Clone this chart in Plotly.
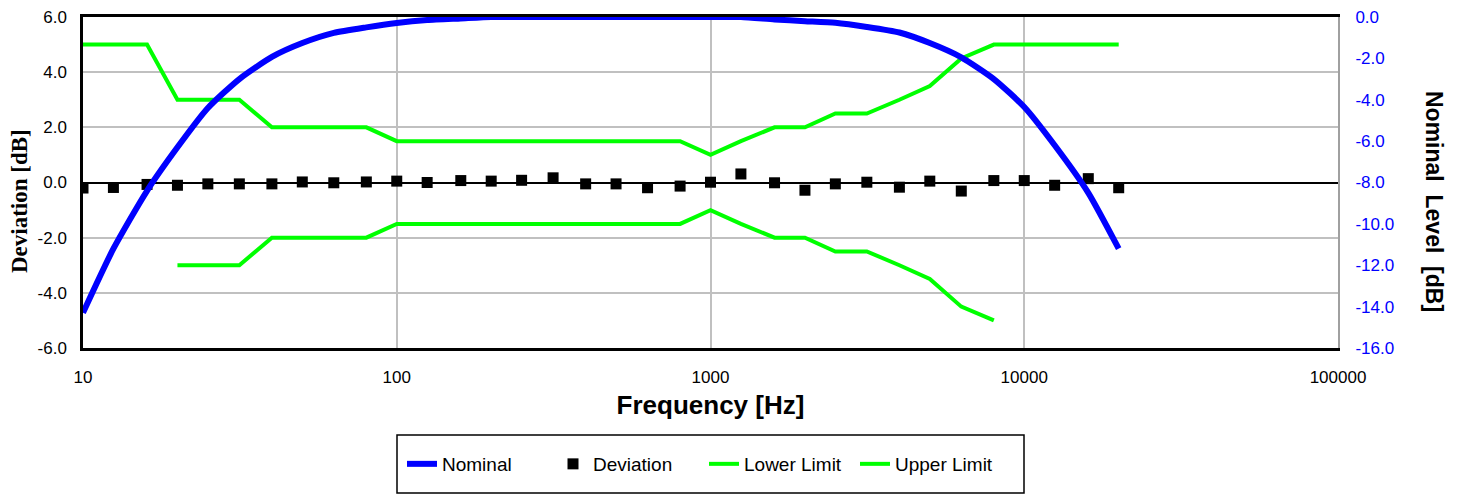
import plotly.graph_objects as go

freq = [10, 12.5, 16, 20, 25, 31.5, 40, 50, 63, 80, 100, 125, 160, 200, 250, 315, 400, 500,
        630, 800, 1000, 1250, 1600, 2000, 2500, 3150, 4000, 5000, 6300, 8000, 10000, 12500,
        16000, 20000]

nominal = [-14.3, -11.2, -8.4, -6.3, -4.4, -3.0, -1.93, -1.26, -0.77, -0.5, -0.29, -0.15, -0.07,
           0.0, 0.0, 0.0, 0.0, 0.0, 0.0, 0.0, 0.0, 0.0, -0.12, -0.2, -0.28, -0.48, -0.75, -1.26,
           -1.95, -3.0, -4.35, -6.2, -8.5, -11.2]

deviation = [-0.2, -0.18, -0.07, -0.1, -0.05, -0.05, -0.05, 0.02, -0.01, 0.02, 0.05, 0.0, 0.07,
             0.05, 0.08, 0.17, -0.05, -0.05, -0.19, -0.13, 0.01, 0.31, -0.01, -0.28, -0.05, 0.01,
             -0.17, 0.05, -0.31, 0.07, 0.07, -0.1, 0.14, -0.19]

lower_freq = [20, 25, 31.5, 40, 50, 63, 80, 100, 125, 160, 200, 250, 315, 400, 500, 630, 800,
              1000, 1250, 1600, 2000, 2500, 3150, 4000, 5000, 6300, 8000]
lower_limit = [-3, -3, -3, -2, -2, -2, -2, -1.5, -1.5, -1.5, -1.5, -1.5, -1.5, -1.5, -1.5, -1.5,
               -1.5, -1.0, -1.5, -2, -2, -2.5, -2.5, -3, -3.5, -4.5, -5]

upper_limit = [5, 5, 5, 3, 3, 3, 2, 2, 2, 2, 1.5, 1.5, 1.5, 1.5, 1.5, 1.5, 1.5, 1.5, 1.5, 1.5,
               1.0, 1.5, 2, 2, 2.5, 2.5, 3, 3.5, 4.5, 5, 5, 5, 5, 5]

x_ticks = [10, 100, 1000, 10000, 100000]
x_ticktext = ["10", "100", "1000", "10000", "100000"]
y_ticks = [6, 4, 2, 0, -2, -4, -6]
y_ticktext = ["6.0", "4.0", "2.0", "0.0", "-2.0", "-4.0", "-6.0"]
y2_ticks = [0, -2, -4, -6, -8, -10, -12, -14, -16]
y2_ticktext = ["0.0", "-2.0", "-4.0", "-6.0", "-8.0", "-10.0", "-12.0", "-14.0", "-16.0"]

FONT = "Liberation Sans, Arial, sans-serif"
SERIF = "Liberation Serif, Times New Roman, serif"

# plot area in window px: left 83, right 1338, top 17, bottom 348 (page body has 8px margin)
PW = 1338 - 83
PH = 348 - 17


def px_x(px):
    return (px - 83) / PW


def px_y(py):
    return (348 - py) / PH


fig = go.Figure()
fig.add_trace(go.Scatter(x=freq, y=nominal, name="Nominal", yaxis="y2", mode="lines",
                         line=dict(color="#0000FF", width=6, shape="spline", smoothing=0.6)))
fig.add_trace(go.Scatter(x=freq, y=deviation, name="Deviation", mode="markers",
                         marker=dict(symbol="square", size=11, color="black")))
fig.add_trace(go.Scatter(x=lower_freq, y=lower_limit, name="Lower Limit", mode="lines",
                         line=dict(color="#00FF00", width=4)))
fig.add_trace(go.Scatter(x=freq[:len(upper_limit)], y=upper_limit, name="Upper Limit", mode="lines",
                         line=dict(color="#00FF00", width=4)))

fig.update_layout(
    width=1453, height=487,
    margin=dict(l=75, r=123, t=9, b=147, autoexpand=False),
    paper_bgcolor="white", plot_bgcolor="white",
    font=dict(family=FONT, size=17, color="black"),
    showlegend=True,
    legend=dict(orientation="h", x=px_x(402), xanchor="left", y=px_y(464), yanchor="middle",
                font=dict(family=FONT, size=19, color="black"),
                entrywidth=106, entrywidthmode="pixels",
                bgcolor="rgba(0,0,0,0)", borderwidth=0),
    xaxis=dict(type="log", range=[1, 5], tickvals=x_ticks, ticktext=x_ticktext,
               automargin=False, ticklabeloverflow="allow",
               showgrid=True, gridcolor="#C0C0C0", gridwidth=2,
               showline=True, linecolor="black", linewidth=2.5, mirror=True,
               ticks="outside", ticklen=12, tickcolor="rgba(0,0,0,0)",
               tickfont=dict(family=FONT, size=17),
               title=dict(text="<b>Frequency [Hz]</b>", font=dict(family=FONT, size=26), standoff=10)),
    yaxis=dict(range=[-6, 6], tickvals=y_ticks, ticktext=y_ticktext,
               automargin=False, ticklabeloverflow="allow",
               showgrid=True, gridcolor="#C0C0C0", gridwidth=2,
               zeroline=True, zerolinecolor="black", zerolinewidth=2,
               showline=True, linecolor="black", linewidth=2.5,
               ticks="outside", ticklen=10, tickcolor="rgba(0,0,0,0)",
               tickfont=dict(family=FONT, size=17)),
    yaxis2=dict(range=[-16, 0], overlaying="y", side="right", tickvals=y2_ticks,
                ticktext=y2_ticktext, showgrid=False, zeroline=False,
                automargin=False, ticklabeloverflow="allow",
                showline=True, linecolor="#A0A0A0", linewidth=2,
                ticks="outside", ticklen=12, tickcolor="rgba(0,0,0,0)",
                tickfont=dict(family=FONT, size=17, color="#0000FF")),
)

fig.add_annotation(text="<b>Deviation [dB]</b>", xref="paper", yref="paper",
                   x=px_x(19), y=px_y(201), textangle=-90, showarrow=False,
                   font=dict(family=SERIF, size=23, color="black"), xanchor="center", yanchor="middle")

fig.add_annotation(text="<b>Nominal  Level  [dB]</b>", xref="paper", yref="paper",
                   x=px_x(1434), y=px_y(201), textangle=90, showarrow=False,
                   font=dict(family=FONT, size=23, color="black"), xanchor="center", yanchor="middle")

fig.add_shape(type="rect", xref="paper", yref="paper",
              x0=px_x(397), x1=px_x(1024), y0=px_y(493), y1=px_y(435),
              line=dict(color="black", width=1.5), fillcolor="rgba(0,0,0,0)")

fig.write_html("out.html")
